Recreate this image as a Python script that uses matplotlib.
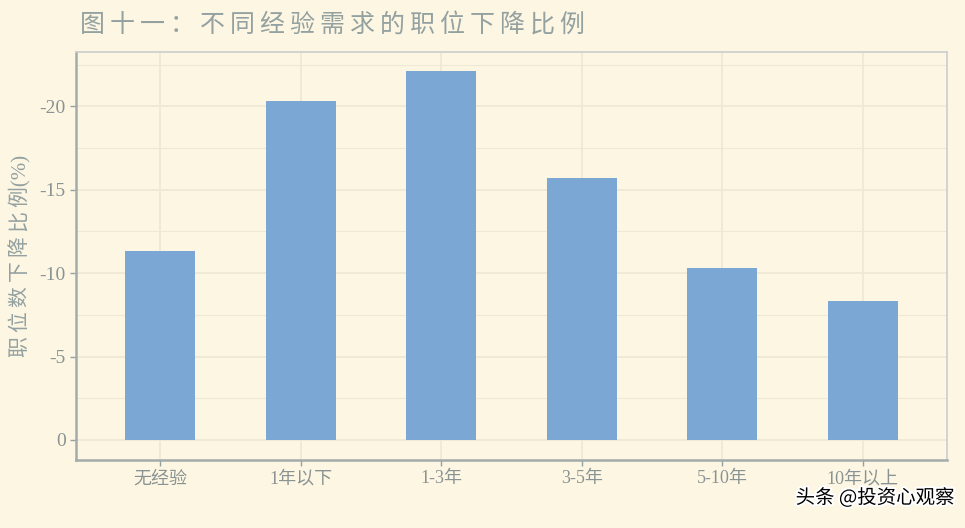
import matplotlib.pyplot as plt
import matplotlib.patheffects as pe
import numpy as np

plt.rcParams['font.family'] = ['Liberation Serif', 'Noto Sans CJK SC', 'DejaVu Sans']

# data: decline in job postings by required experience (%)
categories = ['无经验', '1年以下', '1-3年', '3-5年', '5-10年', '10年以上']
decline = [11.3, 20.3, 22.1, 15.7, 10.3, 8.3]
y_ticks = [0, 5, 10, 15, 20]
y_tick_labels = ['0', '-5', '-10', '-15', '-20']
title = '图十一：不同经验需求的职位下降比例'

BG = '#fdf6e3'
GRID = '#eee8d5'
TEXT = '#93a1a1'
BAR = '#7ba7d4'

fig = plt.figure(figsize=(9.65, 5.28), dpi=100, facecolor=BG)
ax = fig.add_axes([76 / 965, 1 - 460 / 528, 871 / 965, 408 / 528])
ax.set_facecolor(BG)

x = np.arange(len(categories))
ax.bar(x, decline, width=0.5, color=BAR, zorder=3)

ax.set_xlim(-0.6, 5.6)
ax.set_ylim(-1.2, 23.25)
ax.set_xticks(x)
ax.set_xticklabels(categories)
ax.set_yticks(y_ticks)
ax.set_yticklabels(y_tick_labels)
ax.set_yticks(np.arange(2.5, 23, 5), minor=True)

ax.grid(True, which='major', color=GRID, linewidth=1.3, zorder=0)
ax.grid(True, which='minor', axis='y', color=GRID, linewidth=0.8, zorder=0)
ax.set_axisbelow(True)

for side in ['top', 'right']:
    ax.spines[side].set_color('#c9cfc9')
    ax.spines[side].set_linewidth(1.2)
for side in ['left', 'bottom']:
    ax.spines[side].set_color('#a3acab')
    ax.spines[side].set_linewidth(1.8)

ax.tick_params(axis='both', which='major', colors=TEXT, labelsize=13, length=4, width=1)
ax.tick_params(axis='y', which='major', labelsize=14)
ax.tick_params(axis='both', which='minor', length=0)
for lbl in ax.get_xticklabels() + ax.get_yticklabels():
    lbl.set_color('#8a9393')

ax.set_ylabel('\u2009'.join('职位数下降比例') + '(%)', color=TEXT, fontsize=15, labelpad=6)

# widen letter spacing of the title with thin spaces
fig.text(80 / 965, 1 - 25 / 528, '\u2009'.join(title), color=TEXT,
         fontsize=18, va='center', ha='left')

fig.text(955 / 965, 1 - 498 / 528, '头条 @投资心观察', color='black', fontsize=14,
         va='center', ha='right', family=['Noto Sans CJK SC'],
         path_effects=[pe.withStroke(linewidth=3, foreground='white')])

plt.savefig('out.png', dpi=100, facecolor=BG)
